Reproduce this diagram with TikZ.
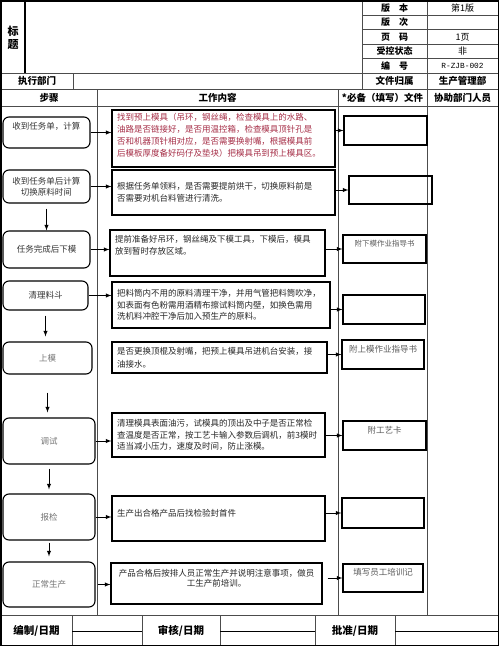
\documentclass[tikz,border=0pt]{standalone}
\usepackage{fontspec}
\setmainfont{Noto Sans CJK SC}
\newfontfamily\codefont{Liberation Mono}
\definecolor{notered}{RGB}{165,45,70}

\begin{document}
\begin{tikzpicture}[x=1pt,y=-1pt,>=latex,
  rule/.style={black!70,line width=0.8pt},
  head/.style={font=\fontsize{9.5}{11}\selectfont\bfseries},
  stepbox/.style={draw,line width=1.1pt,rounded corners=6pt,align=center,
    font=\fontsize{8.5}{11}\selectfont,text=black!80},
  workbox/.style={draw,line width=1.1pt,align=left,inner xsep=5pt,inner ysep=2pt,
    font=\fontsize{8.5}{11.5}\selectfont,text=black!85},
  filebox/.style={draw,line width=1.1pt,minimum height=29pt,text depth=12pt,
    font=\fontsize{8.5}{10}\selectfont,text=black!65},
  flow/.style={->,line width=0.9pt}]
  \useasboundingbox (0,0) rectangle (500,648);

  \draw[rule] (362,15) -- (498,15) (362,29.5) -- (498,29.5) (362,44) -- (498,44) (362,58.5) -- (498,58.5);
  \draw[rule] (1,73) -- (498,73) (1,89) -- (498,89) (1,106) -- (498,106) (1,615) -- (498,615);
  \draw[rule] (362,1) -- (362,89) (427,1) -- (427,615) (73,73) -- (73,89);
  \draw[rule] (97,89) -- (97,615) (338,89) -- (338,615);
  \draw[rule] (72,615) -- (72,645) (142,615) -- (142,645) (220,615) -- (220,645)
    (315,615) -- (315,645) (395,615) -- (395,645);
  \draw[black,line width=0.8pt] (72,631.5) -- (142,631.5) (220,631.5) -- (315,631.5) (395,631.5) -- (498,631.5);
  \draw[black,line width=1.2pt] (25,1) -- (25,73);
  \draw[line width=1.4pt] (1,1) rectangle (498.5,645.5);

  \node[head,align=center,font=\fontsize{11}{13}\selectfont\bfseries] (title) at (13,38) {标\\题};
  \node[head,font=\fontsize{9}{11}\selectfont\bfseries] (edition) at (394.5,8) {版\quad 本};
  \node[head,font=\fontsize{9}{11}\selectfont\bfseries] (revision) at (394.5,22) {版\quad 次};
  \node[head,font=\fontsize{9}{11}\selectfont\bfseries] (page) at (394.5,37) {页\quad 码};
  \node[head,font=\fontsize{9}{11}\selectfont\bfseries] (status) at (394.5,51.5) {受控状态};
  \node[head,font=\fontsize{9}{11}\selectfont\bfseries] (number) at (394.5,66) {编\quad 号};
  \node[font=\fontsize{9}{11}\selectfont] (editionval) at (462.5,8) {第1版};
  \node[font=\fontsize{9}{11}\selectfont] (pageval) at (462.5,37) {1页};
  \node[font=\fontsize{9}{11}\selectfont] (statusval) at (462.5,51.5) {非};
  \node[font=\codefont\fontsize{7.8}{10}\selectfont] (numberval) at (462.5,66) {R-ZJB-002};
  \node[head] (dept) at (37,81) {执行部门};
  \node[head] (owner) at (394.5,81) {文件归属};
  \node[head] (ownerval) at (462.5,81) {生产管理部};
  \node[head] (colstep) at (49,97.5) {步骤};
  \node[head] (colwork) at (217.5,97.5) {工作内容};
  \node[head] (colfile) at (382.5,97.5) {*必备（填写）文件};
  \node[head] (colhelp) at (462.5,97.5) {协助部门人员};
  \node[head,font=\fontsize{10.5}{12}\selectfont\bfseries] (drafted) at (36.5,630.5) {编制/日期};
  \node[head,font=\fontsize{10.5}{12}\selectfont\bfseries] (checked) at (181,630.5) {审核/日期};
  \node[head,font=\fontsize{10.5}{12}\selectfont\bfseries] (approved) at (355,630.5) {批准/日期};

  \node[stepbox,minimum width=87pt,minimum height=31pt,text depth=14pt] (s1) at (46.5,132.5) {收到任务单，计算};
  \node[stepbox,minimum width=87pt,minimum height=33pt] (s2) at (46.5,186.5) {收到任务单后计算\\切换原料时间};
  \node[stepbox,minimum width=87pt,minimum height=37pt] (s3) at (46.5,249.5) {任务完成后下模};
  \node[stepbox,minimum width=85pt,minimum height=29pt] (s4) at (45.5,295.5) {清理料斗};
  \node[stepbox,minimum width=89pt,minimum height=32pt,text=black!55] (s5) at (47.5,358) {上模};
  \node[stepbox,minimum width=92pt,minimum height=46pt,text=black!55] (s6) at (49,441) {调试};
  \node[stepbox,minimum width=92pt,minimum height=46pt,text=black!55] (s7) at (49,517) {报检};
  \node[stepbox,minimum width=92pt,minimum height=45pt,text=black!55] (s8) at (49,584.5) {正常生产};

  \node[workbox,text width=213pt,minimum height=57pt,text depth=44pt,text=notered,
    font=\fontsize{8.5}{12}\selectfont] (m1) at (223.5,138.5)
    {找到预上模具（吊环，钢丝绳，检查模具上的水路、\\
     油路是否链接好，是否用温控箱，检查模具顶针孔是\\
     否和机器顶针相对应，是否需要换射嘴，根据模具前\\
     后模板厚度备好码仔及垫块）把模具吊到预上模具区。};
  \node[workbox,text width=213pt,minimum height=45pt] (m2) at (223.5,192.5)
    {根据任务单领料，是否需要提前烘干，切换原料前是\\
     否需要对机台料管进行清洗。};
  \node[workbox,text width=205pt,minimum height=46pt,text depth=28pt] (m3) at (217.5,253)
    {提前准备好吊环，钢丝绳及下模工具，下模后，模具\\
     放到暂时存放区域。};
  \node[workbox,text width=208pt,minimum height=46pt] (m4) at (221,305)
    {把料筒内不用的原料清理干净，并用气管把料筒吹净，\\
     如表面有色粉需用酒精布擦试料筒内壁，如换色需用\\
     洗机料冲腔干净后加入预生产的原料。};
  \node[workbox,text width=205pt,minimum height=31pt,font=\fontsize{8.5}{13}\selectfont] (m5) at (219.5,357.5)
    {是否更换顶棍及射嘴，把预上模具吊进机台安装，接\\
     油接水。};
  \node[workbox,text width=203pt,minimum height=44pt] (m6) at (218.5,435)
    {清理模具表面油污，试模具的顶出及中子是否正常检\\
     查温度是否正常，按工艺卡输入参数后调机，前3模时\\
     适当减小压力，速度及时间，防止涨模。};
  \node[workbox,text width=203pt,minimum height=45pt,text depth=11pt] (m7) at (218.5,518.5)
    {生产出合格产品后找检验封首件};
  \node[workbox,text width=201pt,minimum height=41pt,text depth=22pt,align=center,
    font=\fontsize{8.5}{10.5}\selectfont] (m8) at (216.5,583.5)
    {产品合格后按排人员正常生产并说明注意事项，做员\\
     工生产前培训。};

  \node[filebox,minimum width=83pt] (f1) at (385.5,130.5) {};
  \node[filebox,minimum width=83pt,minimum height=28pt] (f2) at (390.5,190) {};
  \node[filebox,minimum width=83pt,minimum height=28pt,font=\fontsize{7.5}{9}\selectfont] (f3) at (384.5,249) {附下模作业指导书};
  \node[filebox,minimum width=82pt] (f4) at (384,309.5) {};
  \node[filebox,minimum width=82pt] (f5) at (383,354.5) {附上模作业指导书};
  \node[filebox,minimum width=83pt] (f6) at (384.5,435.5) {附工艺卡};
  \node[filebox,minimum width=82pt,minimum height=30pt] (f7) at (383,513) {};
  \node[filebox,minimum width=80pt,minimum height=28pt] (f8) at (383,578) {填写员工培训记};

  \draw[flow] (s1.east) -- (s1.east -| m1.west);
  \draw[flow] (s2.east) -- (s2.east -| m2.west);
  \draw[flow] (s3.east) -- (s3.east -| m3.west);
  \draw[flow] (s4.east) -- (s4.east -| m4.west);
  \draw[flow] (s6.east) -- (s6.east -| m6.west);
  \draw[flow] (s7.east) -- (s7.east -| m7.west);
  \draw[flow,shorten <=2pt] (s8.east) -- (s8.east -| m8.west);

  \draw[flow] (f1.west -| m1.east) -- (f1.west);
  \draw[flow] (f2.west -| m2.east) -- (f2.west);
  \draw[flow] (f3.west -| m3.east) -- (f3.west);
  \draw[flow] (f4.west -| m4.east) -- (f4.west);
  \draw[flow] (f5.west -| m5.east) -- (f5.west);
  \draw[flow] (f6.west -| m6.east) -- (f6.west);
  \draw[flow] (f7.west -| m7.east) -- (f7.west);
  \draw[flow,shorten <=5pt] (f8.west -| m8.east) -- (f8.west);

  \draw[flow,shorten <=5pt] (s2.south) -- (s2.south |- s3.north);
  \draw[flow,shorten <=5pt,shorten >=5pt] (s4.south) -- (s4.south |- s5.north);
  \draw[flow,shorten <=18pt,shorten >=5pt] (s5.south) -- (s5.south |- s6.north);
  \draw[flow,shorten <=4pt,shorten >=4pt] (s6.south) -- (s6.south |- s7.north);
  \draw[flow,shorten <=2pt,shorten >=5pt] (s7.south) -- (s7.south |- s8.north);
\end{tikzpicture}
\end{document}
